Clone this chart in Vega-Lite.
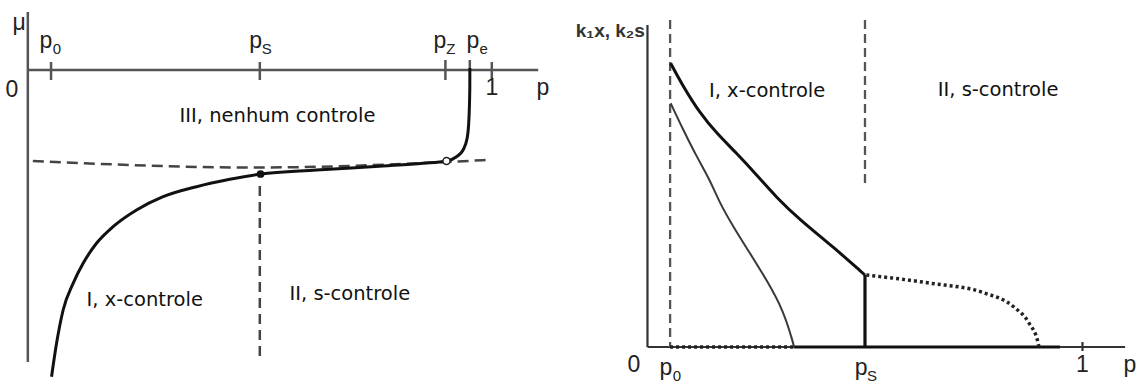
{
  "$schema": "https://vega.github.io/schema/vega-lite/v6.json",
  "padding": 0,
  "spacing": 0,
  "background": "white",
  "config": {"view": {"stroke": null}, "concat": {"spacing": 0}},
  "datasets": {
    "Laxes": [
      {"x": 0, "y": 0.58, "x2": 0, "y2": -2.92},
      {"x": 0, "y": 0, "x2": 1.1, "y2": 0},
      {"x": 0.05, "y": 0.08, "x2": 0.05, "y2": -0.1},
      {"x": 0.5, "y": 0.08, "x2": 0.5, "y2": -0.1},
      {"x": 0.9, "y": 0.1, "x2": 0.9, "y2": -0.1},
      {"x": 0.9526, "y": 0.1, "x2": 0.9526, "y2": 0},
      {"x": 1.0, "y": 0.08, "x2": 1.0, "y2": -0.08}
    ],
    "Ldashline": [
      {"id": "h", "x": 0.0108, "y": -0.91},
      {"id": "h", "x": 0.49, "y": -0.975},
      {"id": "h", "x": 0.99, "y": -0.9}
    ],
    "Ldash": [
      {"x": 0.5, "y": -1.16, "x2": 0.5, "y2": -2.92}
    ],
    "Lcurve": [
      {"id": "mu", "x": 0.0511, "y": -3.067},
      {"id": "mu", "x": 0.0619, "y": -2.733},
      {"id": "mu", "x": 0.0761, "y": -2.4},
      {"id": "mu", "x": 0.0976, "y": -2.133},
      {"id": "mu", "x": 0.1192, "y": -1.933},
      {"id": "mu", "x": 0.148, "y": -1.733},
      {"id": "mu", "x": 0.1838, "y": -1.567},
      {"id": "mu", "x": 0.2343, "y": -1.4},
      {"id": "mu", "x": 0.2916, "y": -1.267},
      {"id": "mu", "x": 0.3636, "y": -1.167},
      {"id": "mu", "x": 0.4353, "y": -1.093},
      {"id": "mu", "x": 0.5015, "y": -1.04},
      {"id": "mu", "x": 0.622, "y": -1.0},
      {"id": "mu", "x": 0.7657, "y": -0.96},
      {"id": "mu", "x": 0.852, "y": -0.933},
      {"id": "mu", "x": 0.9024, "y": -0.91},
      {"id": "mu", "x": 0.9239, "y": -0.867},
      {"id": "mu", "x": 0.9381, "y": -0.8},
      {"id": "mu", "x": 0.9468, "y": -0.683},
      {"id": "mu", "x": 0.9504, "y": -0.517},
      {"id": "mu", "x": 0.9526, "y": -0.183},
      {"id": "mu", "x": 0.9527, "y": 0.02}
    ],
    "LptFilled": [{"x": 0.5015, "y": -1.04}],
    "LptOpen": [{"x": 0.9024, "y": -0.91}],
    "Llabels": [
      {"x": 0.039, "y": 0.22, "t": "p", "s": "0"},
      {"x": 0.491, "y": 0.22, "t": "p", "s": "S"},
      {"x": 0.888, "y": 0.22, "t": "p", "s": "Z"},
      {"x": 0.959, "y": 0.22, "t": "p", "s": "e"}
    ],
    "Lmisc": [
      {"x": -0.019, "y": 0.4, "t": "μ"},
      {"x": -0.0345, "y": -0.27, "t": "0"},
      {"x": 1.0, "y": -0.25, "t": "1"},
      {"x": 1.11, "y": -0.25, "t": "p"}
    ],
    "Lregions": [
      {"x": 0.538, "y": -0.46, "t": "III, nenhum controle"},
      {"x": 0.252, "y": -2.3, "t": "I, x-controle"},
      {"x": 0.694, "y": -2.24, "t": "II, s-controle"}
    ],
    "Raxes": [
      {"x": 0, "y": 3.22, "x2": 0, "y2": 0},
      {"x": 0, "y": 0, "x2": 1.098, "y2": 0},
      {"x": 1, "y": 0.05, "x2": 1, "y2": -0.04}
    ],
    "Rdash": [
      {"x": 0.052, "y": 3.27, "x2": 0.052, "y2": 0},
      {"x": 0.5, "y": 3.27, "x2": 0.5, "y2": 1.64}
    ],
    "Rsolid": [
      {"x": 0.5, "y": 0.72, "x2": 0.5, "y2": 0},
      {"x": 0.337, "y": 0, "x2": 0.948, "y2": 0}
    ],
    "Rthick": [
      {"id": "a", "x": 0.0533, "y": 2.837},
      {"id": "a", "x": 0.0823, "y": 2.603},
      {"id": "a", "x": 0.1207, "y": 2.337},
      {"id": "a", "x": 0.1591, "y": 2.137},
      {"id": "a", "x": 0.2051, "y": 1.937},
      {"id": "a", "x": 0.251, "y": 1.72},
      {"id": "a", "x": 0.2954, "y": 1.5},
      {"id": "a", "x": 0.3506, "y": 1.27},
      {"id": "a", "x": 0.4264, "y": 1.003},
      {"id": "a", "x": 0.5, "y": 0.72}
    ],
    "Rthin": [
      {"id": "b", "x": 0.0533, "y": 2.437},
      {"id": "b", "x": 0.0823, "y": 2.17},
      {"id": "b", "x": 0.1131, "y": 1.903},
      {"id": "b", "x": 0.1437, "y": 1.67},
      {"id": "b", "x": 0.166, "y": 1.44},
      {"id": "b", "x": 0.1972, "y": 1.203},
      {"id": "b", "x": 0.2356, "y": 0.937},
      {"id": "b", "x": 0.274, "y": 0.67},
      {"id": "b", "x": 0.3122, "y": 0.37},
      {"id": "b", "x": 0.3352, "y": 0.037},
      {"id": "b", "x": 0.3368, "y": 0}
    ],
    "Rdot": [
      {"id": "c", "x": 0.503, "y": 0.72},
      {"id": "c", "x": 0.647, "y": 0.64},
      {"id": "c", "x": 0.775, "y": 0.54},
      {"id": "c", "x": 0.8425, "y": 0.4},
      {"id": "c", "x": 0.877, "y": 0.24},
      {"id": "c", "x": 0.898, "y": 0.04},
      {"id": "c", "x": 0.9, "y": 0},
      {"id": "d", "x": 0.052, "y": 0},
      {"id": "d", "x": 0.337, "y": 0}
    ],
    "Rlabels": [
      {"x": 0.0425, "y": -0.28, "t": "p", "s": "0"},
      {"x": 0.491, "y": -0.28, "t": "p", "s": "S"}
    ],
    "Rmisc": [
      {"x": -0.031, "y": -0.25, "t": "0"},
      {"x": 1.0, "y": -0.25, "t": "1"},
      {"x": 1.109, "y": -0.25, "t": "p"}
    ],
    "Rylabel": [{"x": -0.006, "y": 3.1, "t": "k₁x, k₂s"}],
    "Rregions": [
      {"x": 0.275, "y": 2.56, "t": "I, x-controle"},
      {"x": 0.806, "y": 2.57, "t": "II, s-controle"}
    ]
  },
  "hconcat": [
    {
      "width": 560,
      "height": 385,
      "encoding": {
        "x": {"field": "x", "type": "quantitative", "axis": null, "scale": {"domain": [-0.06, 1.147], "nice": false, "zero": false}},
        "y": {"field": "y", "type": "quantitative", "axis": null, "scale": {"domain": [-3.15, 0.7], "nice": false, "zero": false}}
      },
      "layer": [
        {"data": {"name": "Laxes"}, "mark": {"type": "rule", "stroke": "#555", "strokeWidth": 2.5}, "encoding": {"x2": {"field": "x2"}, "y2": {"field": "y2"}}},
        {"data": {"name": "Ldash"}, "mark": {"type": "rule", "stroke": "#444", "strokeWidth": 2.5, "strokeDash": [10, 6]}, "encoding": {"x2": {"field": "x2"}, "y2": {"field": "y2"}}},
        {"data": {"name": "Ldashline"}, "mark": {"type": "line", "stroke": "#444", "strokeWidth": 2.5, "strokeDash": [11, 6], "interpolate": "monotone"}, "encoding": {"detail": {"field": "id"}}},
        {"data": {"name": "Lcurve"}, "mark": {"type": "line", "stroke": "#111", "strokeWidth": 3, "interpolate": "monotone"}, "encoding": {"detail": {"field": "id"}}},
        {"data": {"name": "LptFilled"}, "mark": {"type": "point", "shape": "circle", "filled": true, "color": "#111", "size": 60, "opacity": 1}},
        {"data": {"name": "LptOpen"}, "mark": {"type": "point", "shape": "circle", "filled": false, "stroke": "#222", "fill": "white", "fillOpacity": 1, "strokeWidth": 1.5, "size": 50, "opacity": 1}},
        {"data": {"name": "Llabels"}, "mark": {"type": "text", "font": "Liberation Sans", "fontSize": 23, "color": "#222", "align": "center", "baseline": "alphabetic"}, "encoding": {"text": {"field": "t"}}},
        {"data": {"name": "Llabels"}, "mark": {"type": "text", "font": "Liberation Sans", "fontSize": 15, "color": "#222", "align": "center", "baseline": "alphabetic", "dx": 11, "dy": 6}, "encoding": {"text": {"field": "s"}}},
        {"data": {"name": "Lmisc"}, "mark": {"type": "text", "font": "Liberation Sans", "fontSize": 23, "color": "#222", "align": "center", "baseline": "alphabetic"}, "encoding": {"text": {"field": "t"}}},
        {"data": {"name": "Lregions"}, "mark": {"type": "text", "font": "DejaVu Sans", "fontSize": 19.5, "color": "#111", "align": "center", "baseline": "middle"}, "encoding": {"text": {"field": "t"}}}
      ]
    },
    {
      "width": 579,
      "height": 385,
      "encoding": {
        "x": {"field": "x", "type": "quantitative", "axis": null, "scale": {"domain": [-0.2011, 1.1299], "nice": false, "zero": false}},
        "y": {"field": "y", "type": "quantitative", "axis": null, "scale": {"domain": [-0.38, 3.47], "nice": false, "zero": false}}
      },
      "layer": [
        {"data": {"name": "Raxes"}, "mark": {"type": "rule", "stroke": "#333", "strokeWidth": 2.2}, "encoding": {"x2": {"field": "x2"}, "y2": {"field": "y2"}}},
        {"data": {"name": "Rdash"}, "mark": {"type": "rule", "stroke": "#555", "strokeWidth": 2.3, "strokeDash": [9, 5]}, "encoding": {"x2": {"field": "x2"}, "y2": {"field": "y2"}}},
        {"data": {"name": "Rsolid"}, "mark": {"type": "rule", "stroke": "#111", "strokeWidth": 3.2}, "encoding": {"x2": {"field": "x2"}, "y2": {"field": "y2"}}},
        {"data": {"name": "Rthick"}, "mark": {"type": "line", "stroke": "#111", "strokeWidth": 3, "interpolate": "basis"}, "encoding": {"detail": {"field": "id"}}},
        {"data": {"name": "Rthin"}, "mark": {"type": "line", "stroke": "#3a3a3a", "strokeWidth": 2, "interpolate": "basis"}, "encoding": {"detail": {"field": "id"}}},
        {"data": {"name": "Rdot"}, "mark": {"type": "line", "stroke": "#222", "strokeWidth": 3.5, "strokeDash": [3, 3], "interpolate": "monotone"}, "encoding": {"detail": {"field": "id"}}},
        {"data": {"name": "Rlabels"}, "mark": {"type": "text", "font": "Liberation Sans", "fontSize": 23, "color": "#222", "align": "center", "baseline": "alphabetic"}, "encoding": {"text": {"field": "t"}}},
        {"data": {"name": "Rlabels"}, "mark": {"type": "text", "font": "Liberation Sans", "fontSize": 15, "color": "#222", "align": "center", "baseline": "alphabetic", "dx": 11, "dy": 6}, "encoding": {"text": {"field": "s"}}},
        {"data": {"name": "Rmisc"}, "mark": {"type": "text", "font": "Liberation Sans", "fontSize": 23, "color": "#222", "align": "center", "baseline": "alphabetic"}, "encoding": {"text": {"field": "t"}}},
        {"data": {"name": "Rylabel"}, "mark": {"type": "text", "font": "Liberation Sans, sans-serif", "fontSize": 19, "fontWeight": "bold", "color": "#333", "align": "right", "baseline": "alphabetic"}, "encoding": {"text": {"field": "t"}}},
        {"data": {"name": "Rregions"}, "mark": {"type": "text", "font": "DejaVu Sans", "fontSize": 19.5, "color": "#111", "align": "center", "baseline": "middle"}, "encoding": {"text": {"field": "t"}}}
      ]
    }
  ]
}
